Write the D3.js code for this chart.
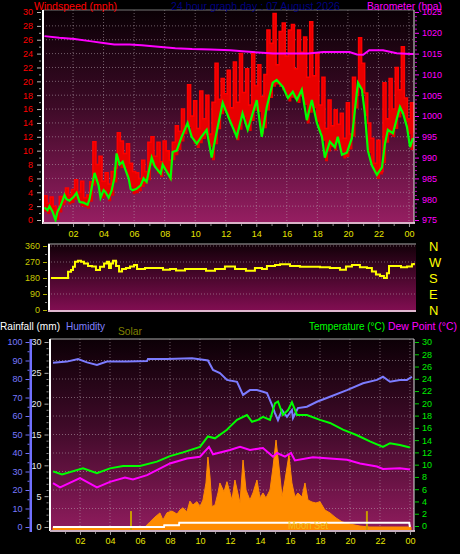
<!DOCTYPE html>
<html><head><meta charset="utf-8">
<script src="https://cdn.jsdelivr.net/npm/d3@7"></script>
<style>
body{margin:0;background:#000;}
svg{display:block;font-family:"Liberation Sans",Arial,sans-serif;}
</style>
</head><body>
<svg id="c" width="460" height="554"></svg>
<script>
// ---------------- DATA ----------------
const hourTickValues = [2,4,6,8,10,12,14,16,18,20,22,24];
const hourTickLabels = ["02","04","06","08","10","12","14","16","18","20","22","00"];
const speedTicks = [0,2,4,6,8,10,12,14,16,18,20,22,24,26,28,30];
const baroTicks = [975,980,985,990,995,1000,1005,1010,1015,1020,1025];
const dirTicks = [0,90,180,270,360];
const compassLabels = ["N","E","S","W","N"];
const humTicks = [0,10,20,30,40,50,60,70,80,90,100];
const rainTicks = [0,5,10,15,20,25,30];
const tempTicks = [0,2,4,6,8,10,12,14,16,18,20,22,24,26,28,30];

// average wind speed (mph)
const windAvgTimes = [0.13,0.33,0.46,0.66,0.85,0.98,1.18,1.44,1.57,1.77,2.03,2.23,2.43,2.69,2.95,3.08,3.21,3.41,3.67,3.8,4.0,4.13,4.33,4.52,4.72,4.85,5.05,5.25,5.44,5.64,5.77,5.9,6.16,6.43,6.62,6.82,7.15,7.34,7.54,7.74,7.87,8.13,8.39,8.52,8.79,9.11,9.5,9.77,10.1,10.4,10.75,11.08,11.34,11.8,12.26,12.72,13.1,13.44,14.03,14.36,14.69,15.08,15.34,15.74,16.07,16.39,16.66,16.98,17.31,17.64,17.97,18.3,18.49,18.82,19.15,19.34,19.61,19.93,20.26,20.46,20.66,20.92,21.11,21.31,21.57,21.9,22.23,22.43,22.62,22.95,23.41,23.61,23.87,24.07,24.26];
const windAvg = [1.8,1.4,2,1.2,0,1.2,2,3.6,3,2.8,3.3,3.9,2.6,2.5,2.2,3,4.5,6.8,5,3.2,4.3,4,3.2,4.2,6.2,9.6,8,8.4,7.2,6,4.5,4.3,4.5,5,6,5.5,9,7.8,7.2,6.7,8,7,6,9.8,10,12,14,12,11,12,13,9,12,16.9,14.4,12,15.4,13,17.3,12,16.3,19.8,20.2,19.2,17.6,18.5,17.3,18.8,14.4,17.3,14,12,9,11.3,10.5,12,9.4,9.7,11.8,15.9,19.8,18.8,15.4,10,7.9,6.5,7.6,11,13,12.5,16.3,15.4,13.4,10.5,11.8];

// gust speed (mph), one reading every 12 minutes starting 00:06
const gustFirstHour = 0.1, gustStepHours = 0.2;
const windGust = [3.5,2.4,3.3,2.0,1.5,3.4,2.6,4.6,3.6,4.4,5.8,4.0,5.6,3.2,3.6,5.5,11.3,8.0,9.2,5.6,6.8,5.2,7.0,7.5,12.6,11.4,9.6,11.0,8.2,7.0,6.8,6.0,8.6,7.0,11.2,12.0,9.2,11.2,8.4,11.4,10.0,8.6,11.2,13.6,12.8,16.0,13.5,19.5,15.0,17.2,13.2,18.6,14.6,18.0,12.4,17.0,22.6,17.4,20.4,18.2,21.6,16.2,22.8,17.0,24.0,18.4,21.8,16.6,24.0,19.4,22.4,17.8,21.0,27.4,25.5,29.8,22.4,27.2,28.4,23.6,27.4,28.2,21.8,27.4,24.2,26.4,20.6,28.6,20.8,24.0,16.6,20.6,13.2,17.3,13.6,15.9,13.8,15.4,11.8,16.9,12.4,20.6,18.0,26.3,22.6,18.3,14.0,11.8,8.2,11.5,7.0,19.8,14.6,20.4,16.0,22.0,18.8,25.0,17.6,14.6,16.9,12.6];

// barometer (hPa)
const baroTimes = [0.13,1.1,2.1,3.1,4.1,4.7,5.7,6.5,7.4,8.7,9.8,11.0,12.3,13.3,14.4,15.1,16.5,17.4,18.4,20.1,20.6,21.0,21.4,22.3,23.2,24.1,24.3];
const baro = [1019.2,1018.8,1018.5,1018.0,1017.5,1017.2,1017.2,1017.0,1016.7,1016.3,1016.1,1016.0,1015.8,1015.5,1015.2,1015.0,1015.0,1015.0,1015.4,1015.4,1014.8,1014.7,1015.8,1015.8,1015.1,1014.9,1014.9];

// wind direction (degrees)
const dirTimes = [0.13,1.2,1.27,1.47,1.6,1.73,1.93,2.13,2.33,2.6,2.87,3.13,3.4,3.67,3.87,4.0,4.13,4.27,4.47,4.67,4.87,5.13,5.4,5.67,5.87,6.4,7.07,7.6,8.07,8.47,9.07,9.73,10.47,11.07,11.73,12.4,13.13,13.73,14.2,14.53,15.07,15.4,16.07,16.73,17.4,18.07,18.73,19.4,19.8,20.2,20.73,21.2,21.53,21.8,22.07,22.33,22.53,22.67,23.07,23.47,23.87,24.2,24.33];
const windDir = [180,180,215,225,243,271,277,271,262,247,245,225,243,262,271,236,262,277,247,216,230,236,245,253,230,236,236,227,230,222,230,230,221,230,245,230,221,236,230,247,253,258,247,243,243,240,236,227,245,253,240,236,216,200,191,180,207,247,247,240,245,258,265];

// humidity (%)
const humTimes = [0.2,1.13,1.87,2.47,3.13,3.8,5.13,6.47,6.53,7.8,9.47,10.33,10.53,10.87,11.33,11.8,12.47,12.87,13.33,13.8,14.2,14.47,14.8,15.0,15.2,15.47,15.8,16.13,16.2,16.53,17.13,17.8,18.67,19.8,20.87,21.8,22.2,22.67,23.33,23.8,24.13];
const humidity = [88.8,89.4,90.8,89,87.6,89.4,89.4,89.7,90.8,90.8,91.2,90.3,90,84.9,83.2,79.5,78.5,71.4,74,74,73.1,72.4,66,61.6,57.8,63.2,59.6,63.2,58.9,64.3,65,67.7,70.4,74,77.7,79.5,81.2,78.5,79.5,79.5,81.2];

// temperature (°C)
const tempTimes = [0.2,0.8,2.2,3.13,4.0,4.87,6.0,7.13,8.0,8.87,10.0,10.53,11.0,11.8,12.0,12.47,13.13,13.47,13.87,14.2,14.67,15.0,15.2,15.53,15.87,16.13,16.47,17.13,18.0,18.67,19.53,20.47,21.33,22.2,22.67,23.33,24.0];
const temperature = [8.9,8.4,9.4,8.6,9.4,9.8,9.8,10.5,11.4,12.0,12.9,14.6,14.3,15.7,16.2,17.3,18.1,17.0,17.3,17.8,17.3,20.0,20.3,18.1,18.9,20.2,18.1,18.1,17.3,16.8,15.7,14.8,13.8,12.9,13.5,13.2,12.8];

// dew point (°C)
const dewTimes = [0.2,0.67,2.0,3.13,4.0,5.0,5.53,6.47,8.0,9.13,10.0,10.6,10.87,12.0,12.67,13.33,14.2,14.87,15.13,15.67,16.07,16.33,17.53,18.67,19.8,20.67,21.8,22.2,23.33,24.0];
const dewPoint = [7.0,6.3,7.8,6.3,7.2,7.9,7.6,8.3,10.2,11.0,11.3,12.9,11.7,12.4,12.9,12.4,12.7,11.3,11.9,11.3,11.9,10.7,11.2,11.0,10.8,10.2,9.7,9.3,9.4,9.2];

// solar radiation (W/m²)
const solarTimes = [0.2,6.33,6.67,7.0,7.33,7.53,7.8,8.13,8.47,8.67,8.87,9.13,9.33,9.53,9.8,10.0,10.2,10.4,10.53,10.67,10.8,11.0,11.2,11.33,11.6,11.8,12.13,12.33,12.67,12.87,13.07,13.33,13.53,13.8,14.0,14.2,14.4,14.67,14.87,15.07,15.27,15.47,15.67,15.93,16.13,16.33,16.53,16.8,17.0,17.2,17.47,17.73,18.0,18.33,18.67,19.07,19.47,20.0,20.67,21.33,24.07];
const solar = [0,0,28,54,76,38,77,86,70,92,104,82,140,119,137,110,146,238,378,270,110,119,184,238,190,245,146,254,130,362,200,146,184,254,157,184,157,200,324,470,324,162,254,389,238,162,184,162,238,146,135,130,137,92,76,49,28,16,5,0,0];

// rainfall (mm)
const rainTimes = [0.2,7.6,7.62,8.6,8.62,23.95,24.0];
const rainfall = [0,0,0.3,0.3,0.7,0.7,0];

// sunrise / sunset markers (hours) and moon event
const sunMarkers = [5.4, 21.13];
const moonEventHour = 15.87;
const moonEventLabel = "Moon Set";

// ---------------- DRAWING ----------------
const svg = d3.select("#c");
const defs = svg.append("defs");
function grad(id, stops){
  const g = defs.append("linearGradient").attr("id",id).attr("x1",0).attr("y1",0).attr("x2",0).attr("y2",1);
  stops.forEach(s => g.append("stop").attr("offset",s[0]).attr("stop-color",s[1]));
}
grad("gTop",[[0,"#0a0005"],[0.45,"#3c0a26"],[1,"#961e62"]]);
grad("gMid",[[0,"#120008"],[1,"#820e52"]]);
grad("gBot",[[0,"#0c0006"],[0.45,"#3e0a28"],[1,"#901c5e"]]);

const FONT = "'Liberation Sans', Arial, sans-serif";
function styleAxis(g, color, size, tickColor){
  g.select(".domain").remove();
  g.selectAll("line").attr("stroke", tickColor || color);
  g.selectAll("text").attr("fill", color).attr("font-size", size).attr("font-family", FONT);
}
const grid = (sel) => sel.attr("stroke","#b8a8b0").attr("stroke-opacity",0.55).attr("stroke-dasharray","1,2").attr("stroke-width",1);
function title(x, y, txt, color, len, size){
  svg.append("text").attr("x",x).attr("y",y).attr("font-size",size||"11.5px").attr("fill",color)
    .attr("textLength",len).attr("lengthAdjust","spacingAndGlyphs").text(txt);
}

// ===== Panel 1: wind speed & barometer =====
const P1 = {l:43, r:414, t:10, b:223};
const xT = d3.scaleLinear().domain([0,24.33]).range([42.5,414]);
const ySpd = d3.scaleLinear().domain([0,30]).range([220,12]);
const yBaro = d3.scaleLinear().domain([975,1025]).range([220,12]);

svg.append("rect").attr("x",P1.l).attr("y",P1.t).attr("width",P1.r-P1.l).attr("height",P1.b-P1.t).attr("fill","url(#gTop)");
const g1 = svg.append("g");
g1.selectAll("line.vg").data(hourTickValues).join("line").attr("x1",d=>xT(d)).attr("x2",d=>xT(d)).attr("y1",P1.t).attr("y2",P1.b).call(grid);
g1.selectAll("line.hg").data(speedTicks.filter(d=>d>0&&d<30)).join("line").attr("x1",P1.l).attr("x2",P1.r).attr("y1",d=>ySpd(d)).attr("y2",d=>ySpd(d)).call(grid);

// gust band
const avgAt = d3.scaleLinear().domain(windAvgTimes).range(windAvg).clamp(true);
const gustData = windGust.map((v,i)=>({t:gustFirstHour+i*gustStepHours, v}));
g1.append("path").datum(gustData)
  .attr("d", d3.area().curve(d3.curveStepAfter).x(d=>xT(d.t)).y0(d=>ySpd(Math.max(0,avgAt(d.t)-0.6))).y1(d=>ySpd(d.v)))
  .attr("fill","#e80000");
g1.append("path").datum(gustData)
  .attr("d", d3.line().curve(d3.curveStepAfter).x(d=>xT(d.t)).y(d=>ySpd(d.v)))
  .attr("fill","none").attr("stroke","#ff0000").attr("stroke-width",1.5);
// barometer
g1.append("path").datum(baroTimes.map((t,i)=>[t,baro[i]]))
  .attr("d", d3.line().x(d=>xT(d[0])).y(d=>yBaro(d[1])))
  .attr("fill","none").attr("stroke","#ff00ff").attr("stroke-width",2);
// avg wind
g1.append("path").datum(windAvgTimes.map((t,i)=>[t,windAvg[i]]))
  .attr("d", d3.line().x(d=>xT(d[0])).y(d=>ySpd(d[1])))
  .attr("fill","none").attr("stroke","#00ff00").attr("stroke-width",2.2);

// borders
svg.append("line").attr("x1",P1.l).attr("x2",P1.r).attr("y1",P1.t).attr("y2",P1.t).attr("stroke","#777");
svg.append("rect").attr("x",42).attr("y",P1.t).attr("width",2).attr("height",P1.b-P1.t+1).attr("fill","#fff");
svg.append("rect").attr("x",P1.l).attr("y",P1.b-1).attr("width",P1.r-P1.l+1).attr("height",2).attr("fill","#d8b4c8");
svg.append("line").attr("x1",P1.r).attr("x2",P1.r).attr("y1",P1.t).attr("y2",P1.b).attr("stroke","#ddd");

// axes panel 1
svg.append("g").attr("transform","translate(41,0)")
  .call(d3.axisLeft(ySpd).tickValues(speedTicks).tickSize(4).tickPadding(4))
  .call(g=>styleAxis(g,"#ff0000","9px","#bbbbbb"));
svg.append("g").attr("transform","translate(41,0)")
  .call(d3.axisLeft(ySpd).tickValues(speedTicks.slice(0,-1).map(d=>d+1)).tickSize(2).tickFormat(""))
  .call(g=>styleAxis(g,"#999","9px","#999"));
svg.append("g").attr("transform","translate(415,0)")
  .call(d3.axisRight(yBaro).tickValues(baroTicks).tickSize(4).tickPadding(3).tickFormat(d3.format("d")))
  .call(g=>styleAxis(g,"#ff00ff","9px","#ff00ff"));
svg.append("g").attr("transform","translate(415,0)")
  .call(d3.axisRight(yBaro).tickValues(d3.range(976,1025).filter(d=>d%5)).tickSize(2).tickFormat(""))
  .call(g=>styleAxis(g,"#ff00ff","9px","#c000c0"));
svg.append("g").attr("transform","translate(0,224)")
  .call(d3.axisBottom(xT).tickValues(hourTickValues).tickSize(3).tickPadding(4).tickFormat((d,i)=>hourTickLabels[i]))
  .call(g=>styleAxis(g,"#e6e600","9px","#999"));
svg.append("g").attr("transform","translate(0,224)")
  .call(d3.axisBottom(xT).tickValues(d3.range(1,25,2)).tickSize(2).tickFormat(""))
  .call(g=>styleAxis(g,"#999","9px","#888"));

// titles
title(34, 9.5, "Windspeed (mph)", "#ff0000", 83, "10.5px");
title(171, 9.5, "24 hour graph day : 07 August 2026", "#000080", 169, "10.5px");
title(367, 9.5, "Barometer (hpa)", "#ff00ff", 75, "10.5px");

// ===== Panel 2: wind direction =====
const P2 = {l:48, r:416, t:244, b:311};
const xM = d3.scaleLinear().domain([0,24.47]).range([49,416]);
const yDir = d3.scaleLinear().domain([0,360]).range([310,246]);
svg.append("rect").attr("x",P2.l).attr("y",P2.t).attr("width",P2.r-P2.l).attr("height",P2.b-P2.t).attr("fill","url(#gMid)");
svg.append("g").selectAll("line").data(dirTicks.filter(d=>d>0)).join("line")
  .attr("x1",P2.l).attr("x2",P2.r).attr("y1",d=>yDir(d)).attr("y2",d=>yDir(d)).call(grid);
svg.append("path").datum(dirTimes.map((t,i)=>[t,windDir[i]]))
  .attr("d", d3.line().curve(d3.curveStepAfter).x(d=>xM(d[0])).y(d=>yDir(d[1])))
  .attr("fill","none").attr("stroke","#ffff00").attr("stroke-width",2);
svg.append("line").attr("x1",P2.l).attr("x2",P2.r).attr("y1",P2.t).attr("y2",P2.t).attr("stroke","#aaa");
svg.append("rect").attr("x",P2.l).attr("y",P2.t).attr("width",2).attr("height",P2.b-P2.t).attr("fill","#fff");
svg.append("rect").attr("x",P2.l).attr("y",P2.b-1).attr("width",P2.r-P2.l).attr("height",2).attr("fill","#e0b8d0");
svg.append("g").attr("transform","translate(47,0)")
  .call(d3.axisLeft(yDir).tickValues(dirTicks).tickSize(4).tickPadding(3))
  .call(g=>styleAxis(g,"#c8c800","9px","#b0b000"));
svg.append("g").attr("transform","translate(47,0)")
  .call(d3.axisLeft(yDir).tickValues([45,135,225,315]).tickSize(2).tickFormat(""))
  .call(g=>styleAxis(g,"#888","9px","#888"));
svg.append("g").attr("transform","translate(429,0)")
  .call(d3.axisRight(yDir).tickValues(dirTicks).tickSize(0).tickPadding(0).tickFormat((d,i)=>compassLabels[i]))
  .call(g=>styleAxis(g,"#ffff00","13px","#ffff00"));

// ===== Panel 3: rain, humidity, solar, temp, dew =====
const P3 = {l:50, r:414, t:339, b:531};
const xB = d3.scaleLinear().domain([0,24.27]).range([50,414]);
const yHum = d3.scaleLinear().domain([0,100]).range([527,342]);
const yRain = d3.scaleLinear().domain([0,30]).range([527,342]);
const yTemp = d3.scaleLinear().domain([0,30]).range([526,342]);
const ySolar = d3.scaleLinear().domain([0,1000]).range([527,342]);

svg.append("rect").attr("x",P3.l).attr("y",P3.t).attr("width",P3.r-P3.l).attr("height",P3.b-P3.t).attr("fill","url(#gBot)");
const g3 = svg.append("g");
g3.selectAll("line.vg").data(hourTickValues).join("line").attr("x1",d=>xB(d)).attr("x2",d=>xB(d)).attr("y1",P3.t).attr("y2",P3.b).call(grid);
g3.selectAll("line.hg").data(humTicks.filter(d=>d>0&&d<100)).join("line").attr("x1",P3.l).attr("x2",P3.r).attr("y1",d=>yHum(d)).attr("y2",d=>yHum(d)).call(grid);

// solar
g3.append("path").datum(solarTimes.map((t,i)=>[t,solar[i]]))
  .attr("d", d3.area().x(d=>xB(d[0])).y0(ySolar(0)+3).y1(d=>ySolar(d[1])))
  .attr("fill","#ff8c00").attr("stroke","#ff8c00").attr("stroke-width",1);
// sun markers
g3.selectAll("line.sun").data(sunMarkers).join("line")
  .attr("x1",d=>xB(d)).attr("x2",d=>xB(d)).attr("y1",ySolar(86)).attr("y2",P3.b-1)
  .attr("stroke","#c89a00").attr("stroke-width",2);
// rain
g3.append("path").datum(rainTimes.map((t,i)=>[t,rainfall[i]]))
  .attr("d", d3.line().x(d=>xB(d[0])).y(d=>yRain(d[1])))
  .attr("fill","none").attr("stroke","#ffffff").attr("stroke-width",2);
// moon label
g3.append("text").attr("x",xB(moonEventHour)).attr("y",529).attr("font-size","10.5px").attr("fill","#f0c820").attr("fill-opacity",0.9)
  .attr("textLength",40).attr("lengthAdjust","spacingAndGlyphs").text(moonEventLabel);
// humidity, temp, dew
g3.append("path").datum(humTimes.map((t,i)=>[t,humidity[i]]))
  .attr("d", d3.line().x(d=>xB(d[0])).y(d=>yHum(d[1])))
  .attr("fill","none").attr("stroke","#7c7cff").attr("stroke-width",2);
g3.append("path").datum(dewTimes.map((t,i)=>[t,dewPoint[i]]))
  .attr("d", d3.line().x(d=>xB(d[0])).y(d=>yTemp(d[1])))
  .attr("fill","none").attr("stroke","#ff00ff").attr("stroke-width",2);
g3.append("path").datum(tempTimes.map((t,i)=>[t,temperature[i]]))
  .attr("d", d3.line().x(d=>xB(d[0])).y(d=>yTemp(d[1])))
  .attr("fill","none").attr("stroke","#00ff00").attr("stroke-width",2);

// borders
svg.append("line").attr("x1",P3.l).attr("x2",P3.r).attr("y1",P3.t).attr("y2",P3.t).attr("stroke","#aaa");
svg.append("rect").attr("x",49).attr("y",P3.t).attr("width",2).attr("height",P3.b-P3.t).attr("fill","#fff");
svg.append("rect").attr("x",P3.l).attr("y",P3.b-1).attr("width",P3.r-P3.l+1).attr("height",2).attr("fill","#c8b0c0");
svg.append("line").attr("x1",P3.r).attr("x2",P3.r).attr("y1",P3.t).attr("y2",P3.b).attr("stroke","#ddd");
// humidity axis (blue bar)
svg.append("rect").attr("x",29.5).attr("y",P3.t).attr("width",2.5).attr("height",P3.b-P3.t+1).attr("fill","#7070ff");
svg.append("g").attr("transform","translate(29.5,0)")
  .call(d3.axisLeft(yHum).tickValues(humTicks).tickSize(4).tickPadding(3))
  .call(g=>styleAxis(g,"#7878ff","9px","#7070ff"));
svg.append("g").attr("transform","translate(29.5,0)")
  .call(d3.axisLeft(yHum).tickValues(humTicks.slice(0,-1).map(d=>d+5)).tickSize(2).tickFormat(""))
  .call(g=>styleAxis(g,"#7070ff","9px","#7070ff"));
svg.append("g").attr("transform","translate(48.5,0)")
  .call(d3.axisLeft(yRain).tickValues(rainTicks).tickSize(4).tickPadding(3))
  .call(g=>styleAxis(g,"#e8e8e8","9px","#aaaaaa"));
svg.append("g").attr("transform","translate(48.5,0)")
  .call(d3.axisLeft(yRain).tickValues(d3.range(1,30).filter(d=>d%5)).tickSize(2).tickFormat(""))
  .call(g=>styleAxis(g,"#888","9px","#888"));
svg.append("g").attr("transform","translate(415,0)")
  .call(d3.axisRight(yTemp).tickValues(tempTicks).tickSize(4).tickPadding(3))
  .call(g=>styleAxis(g,"#00ee00","9px","#00cc00"));
svg.append("g").attr("transform","translate(0,532)")
  .call(d3.axisBottom(xB).tickValues(hourTickValues).tickSize(3).tickPadding(3).tickFormat((d,i)=>hourTickLabels[i]))
  .call(g=>styleAxis(g,"#e6e600","9px","#999"));
svg.append("g").attr("transform","translate(0,532)")
  .call(d3.axisBottom(xB).tickValues(d3.range(1,25,2)).tickSize(2).tickFormat(""))
  .call(g=>styleAxis(g,"#999","9px","#888"));

// titles panel 3
title(0, 330, "Rainfall (mm)", "#ffffff", 60);
title(66, 330, "Humidity", "#8080ff", 39);
title(118, 335, "Solar", "#808000", 24);
title(309, 330, "Temperature (°C)", "#00ff00", 76, "11px");
title(388, 330, "Dew Point (°C)", "#ff00ff", 69, "11px");
</script>
</body></html>
